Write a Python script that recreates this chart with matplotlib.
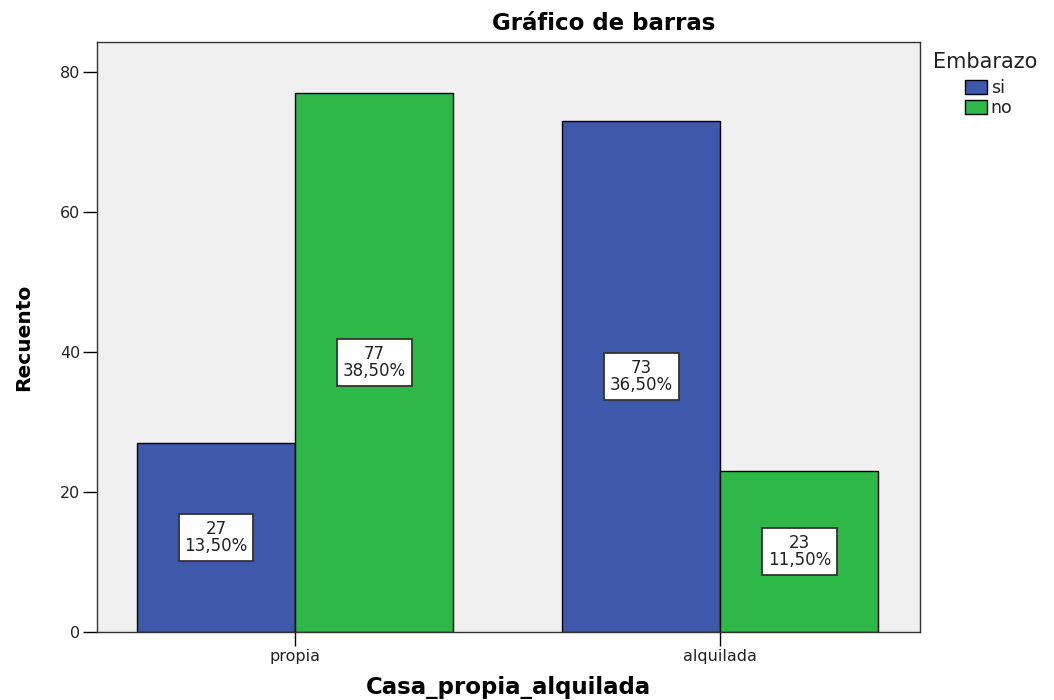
import matplotlib
matplotlib.use("Agg")
import matplotlib.pyplot as plt
import numpy as np
from matplotlib.patches import Patch

categories = ["propia", "alquilada"]
series_names = ["si", "no"]
si_counts = [27, 73]
no_counts = [77, 23]
si_pct = ["13,50%", "36,50%"]
no_pct = ["38,50%", "11,50%"]
colors = ["#3E58AC", "#2EB848"]

plt.rcParams['font.family'] = ['DejaVu Sans']

W, H = 1054, 700
fig = plt.figure(figsize=(W / 100, H / 100), dpi=100)
ax = fig.add_axes([97 / W, (H - 632) / H, (920 - 97) / W, (632 - 42) / H])
ax.set_facecolor("#F0F0F0")

x = np.arange(len(categories))
w = 0.372
for i, (vals, pcts) in enumerate([(si_counts, si_pct), (no_counts, no_pct)]):
    offs = (i - 0.5) * w
    ax.bar(x + offs, vals, width=w, color=colors[i], edgecolor="black", linewidth=1.0, zorder=2)
    for xi, v, p in zip(x, vals, pcts):
        ax.text(xi + offs, v / 2, f"{v}\n{p}", ha="center", va="center", fontsize=12,
                color="#222222", linespacing=0.9, zorder=3,
                bbox=dict(boxstyle="square,pad=0.35", facecolor="white", edgecolor="#333333", linewidth=1.3))

ax.set_xlim(-0.466, 1.47)
ax.set_ylim(0, 84.3)
ax.set_yticks([0, 20, 40, 60, 80])
ax.set_xticks(x)
ax.set_xticklabels(categories)
ax.tick_params(axis="both", direction="out", length=10, width=1.0, labelsize=11.5,
               colors="black", labelcolor="#222222", pad=2)
for s in ax.spines.values():
    s.set_linewidth(1.0)
    s.set_color("#333333")

fig.text(604 / W, 1 - 30 / H, "Gráfico de barras", fontsize=16.5, fontweight="bold",
         ha="center", va="baseline")
ax.set_xlabel("Casa_propia_alquilada", fontsize=16.5, fontweight="bold")
ax.xaxis.set_label_coords(0.5, (632 - 676) / 590)
ax.set_ylabel("Recuento", fontsize=14.5, fontweight="bold")
ax.yaxis.set_label_coords((33 - 97) / 823, 0.5)

fig.text(933 / W, 1 - 68 / H, "Embarazo", fontsize=15, ha="left", va="baseline", color="#222222")
handles = [Patch(facecolor=c, edgecolor="black", linewidth=1.0) for c in colors]
leg = fig.legend(handles, series_names, loc="upper left", bbox_to_anchor=(965 / W, 1 - 79 / H),
                 frameon=False, fontsize=12.5, borderpad=0, borderaxespad=0,
                 handlelength=1.26, handleheight=0.86, handletextpad=0.23, labelspacing=0.1)
for t in leg.get_texts():
    t.set_color("#222222")

fig.savefig("out.png", dpi=100)
